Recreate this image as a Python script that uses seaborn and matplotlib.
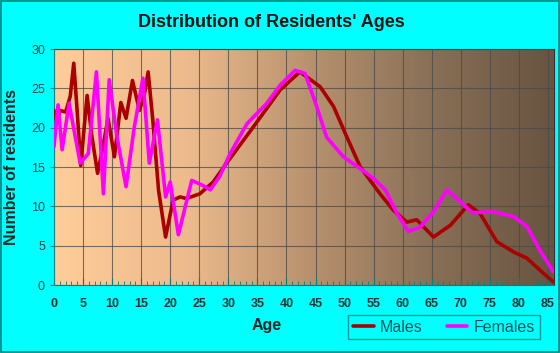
import numpy as np
import pandas as pd
import matplotlib
matplotlib.use('Agg')
import matplotlib.pyplot as plt
import seaborn as sns
from matplotlib.colors import LinearSegmentedColormap
from matplotlib.ticker import MultipleLocator

# 数据
male_age = [0, 0.5, 1.0, 2.0, 2.8, 3.4, 4.0, 4.6, 5.7, 6.5, 7.5, 8.4, 9.3, 10.4, 11.5, 12.4,
            13.5, 14.7, 15.5, 16.2, 17.0, 18.0, 19.2, 20.5, 21.7, 22.8, 25.1, 27.4, 29.7,
            34.3, 38.9, 42.3, 45.8, 48.1, 50.4, 52.7, 54.4, 56.1, 58.4, 60.7, 62.4, 65.3,
            68.2, 71.3, 73.3, 76.2, 79.1, 81.4, 83.6, 85.9]
male_val = [22.2, 20.6, 22.2, 22.0, 24.0, 28.2, 22.0, 15.2, 24.1, 19.0, 14.2, 17.5, 21.2, 16.3,
            23.2, 21.2, 26.0, 22.2, 24.0, 27.1, 21.0, 12.0, 6.1, 10.8, 11.2, 11.0, 11.6, 13.1,
            15.5, 20.1, 24.8, 27.1, 25.2, 22.7, 18.8, 15.0, 13.3, 11.6, 9.5, 8.0, 8.3, 6.1,
            7.6, 10.2, 9.1, 5.5, 4.2, 3.4, 1.9, 0.4]

female_age = [0, 0.7, 1.4, 2.6, 3.5, 4.5, 5.9, 7.3, 8.5, 9.5, 10.8, 12.4, 13.8, 15.3, 16.4,
              17.8, 19.2, 20.0, 21.4, 23.7, 25.5, 26.9, 28.5, 30.3, 33.2, 36.6, 38.9, 41.5,
              43.2, 45.2, 46.9, 49.8, 53.8, 55.2, 57.0, 59.0, 61.0, 63.0, 65.3, 67.6, 69.9,
              71.9, 75.6, 79.1, 81.4, 83.6, 85.9]
female_val = [17.6, 22.9, 17.2, 23.1, 19.5, 15.5, 16.7, 27.1, 11.6, 26.1, 19.0, 12.5, 20.0,
              26.3, 15.5, 21.0, 11.2, 13.1, 6.4, 13.3, 12.7, 12.1, 13.8, 16.7, 20.5, 23.1,
              25.4, 27.3, 26.9, 22.7, 18.8, 16.3, 14.2, 13.4, 12.1, 9.1, 6.8, 7.4, 9.3, 12.1,
              10.6, 9.2, 9.3, 8.7, 7.4, 4.4, 1.7]

df = pd.concat([
    pd.DataFrame({'Age': male_age, 'Residents': male_val, 'Sex': 'Males'}),
    pd.DataFrame({'Age': female_age, 'Residents': female_val, 'Sex': 'Females'}),
])

sns.set_style('white')
plt.rcParams['font.family'] = ['Liberation Sans', 'DejaVu Sans']

fig = plt.figure(figsize=(5.6, 3.53), dpi=100, facecolor='#00FFFF')
ax = fig.add_axes([0.0964, 0.1926, 0.8926, 0.6684])

# 渐变背景
cmap = LinearSegmentedColormap.from_list(
    'bg', [(0, '#FFCD9A'), (0.27, '#ECBA8C'), (0.51, '#B8926F'), (0.75, '#8A7058'), (1, '#685441')])
grad = np.linspace(0, 1, 256).reshape(1, -1)
ax.imshow(grad, extent=[0, 86, 0, 30], aspect='auto', cmap=cmap, zorder=0)

sns.lineplot(data=df, x='Age', y='Residents', hue='Sex', ax=ax,
             palette={'Males': '#AA0000', 'Females': '#FF00FF'},
             hue_order=['Males', 'Females'], linewidth=2.6, sort=True, estimator=None, zorder=3)

ax.set_xlim(0, 86)
ax.set_ylim(0, 30)
ax.xaxis.set_major_locator(MultipleLocator(5))
ax.xaxis.set_minor_locator(MultipleLocator(1))
ax.yaxis.set_major_locator(MultipleLocator(5))
ax.grid(True, which='major', color='#4a4a4a', linewidth=0.8, alpha=0.75)
for ln in ax.get_xgridlines() + ax.get_ygridlines():
    ln.set_zorder(1)

for s in ['top', 'right']:
    ax.spines[s].set_color('#333333')
    ax.spines[s].set_linewidth(0.8)
ax.spines['left'].set_color('#008080')
ax.spines['bottom'].set_color('#008080')

ax.tick_params(axis='x', which='major', direction='in', length=5, color='#008080',
               labelsize=9, labelcolor='#223333', pad=9, bottom=True)
ax.tick_params(axis='x', which='minor', direction='in', length=3, color='#008080', bottom=True)
ax.tick_params(axis='y', which='major', direction='out', length=3, color='#008080',
               labelsize=9, labelcolor='#224444', left=True)
for lab in ax.get_xticklabels():
    lab.set_fontweight('bold')

ax.set_xlabel('Age', fontsize=11.5, fontweight='bold')
ax.xaxis.set_label_coords(0.425, -0.14)
ax.set_ylabel('Number of residents', fontsize=11.5, fontweight='bold')
ax.yaxis.set_label_coords(-0.07, 0.5)
fig.text(0.485, 0.935, "Distribution of Residents' Ages", ha='center', va='center',
         fontsize=13, fontweight='bold', color='#111111')

leg = ax.legend(loc='center', bbox_to_anchor=(0.78, -0.178), ncol=2, frameon=True,
                fontsize=11.5, handlelength=1.3, columnspacing=1.5, handletextpad=0.4,
                borderpad=0.3, fancybox=False, edgecolor='#008080', facecolor='#00FFFF')
leg.get_frame().set_linewidth(1.0)
for t in leg.get_texts():
    t.set_color('#005555')

# 外边框
fig.patches.append(plt.Rectangle((0.002, 0.003), 0.996, 0.994, transform=fig.transFigure,
                                 fill=False, edgecolor='#008080', linewidth=1.2))

fig.savefig('out.png', dpi=100, facecolor='#00FFFF')
